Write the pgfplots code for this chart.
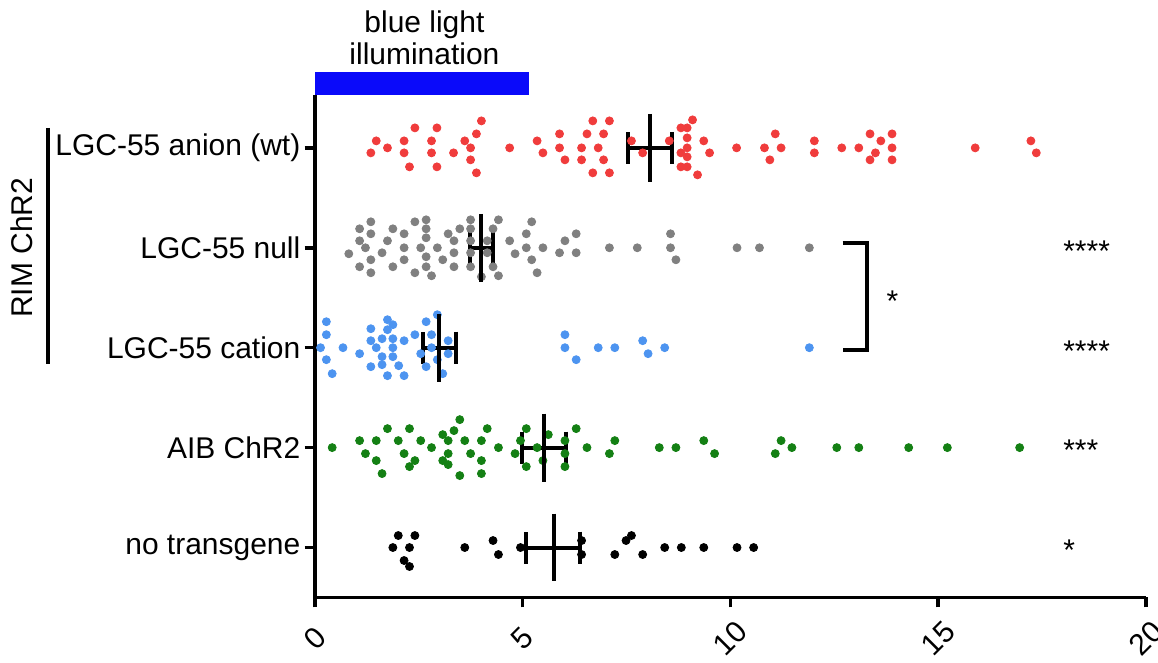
\documentclass[border=0pt]{standalone}
\usepackage{pgfplots}
\pgfplotsset{compat=1.18}
\usepackage{pgfplotstable}
\usepackage{fontspec}
\setmainfont{Liberation Sans}
\definecolor{cred}{RGB}{240,60,60}
\definecolor{cgray}{RGB}{128,128,128}
\definecolor{cblue}{RGB}{77,148,240}
\definecolor{cgreen}{RGB}{20,128,20}
\definecolor{illum}{RGB}{10,10,250}

\pgfplotstableread{
x y
1.35 4.95
1.48 5.07
1.75 5.00
2.15 5.07
2.15 4.95
2.28 4.81
2.41 5.20
2.81 5.07
2.81 4.95
2.94 5.20
2.94 4.81
3.34 4.95
3.61 5.07
3.75 5.00
3.75 4.88
3.89 5.14
3.89 4.75
4.01 5.27
4.69 5.00
5.35 5.07
5.49 4.95
5.89 5.14
5.89 5.00
6.02 4.88
6.42 5.00
6.42 4.88
6.55 5.14
6.69 5.27
6.69 4.75
6.82 5.00
6.95 5.14
6.95 4.88
7.09 5.27
7.09 4.75
7.62 5.07
7.89 4.95
8.53 5.07
8.81 5.20
8.81 4.95
8.81 4.81
8.96 5.20
8.96 5.10
8.96 5.00
8.96 4.91
8.96 4.81
9.09 5.28
9.21 4.73
9.36 5.07
9.50 4.95
10.15 5.00
10.82 5.00
11.08 5.14
11.22 5.00
10.95 4.88
12.02 5.07
12.02 4.95
12.68 5.00
13.09 5.00
13.36 5.14
13.62 5.07
13.89 5.14
13.89 5.00
13.49 4.95
13.36 4.88
13.89 4.88
15.89 5.00
17.23 5.07
17.36 4.95
}\anion

\pgfplotstableread{
x y
0.82 3.94
1.08 4.19
1.08 4.07
1.08 3.81
1.22 4.00
1.35 4.26
1.35 4.14
1.35 3.88
1.35 3.75
1.62 3.95
1.75 4.07
1.88 4.19
1.88 3.81
2.15 4.14
2.15 4.00
2.15 3.88
2.41 4.26
2.41 3.75
2.55 4.00
2.68 4.28
2.68 4.19
2.68 4.10
2.68 3.91
2.68 3.81
2.81 3.72
2.95 4.00
3.08 3.88
3.21 4.14
3.49 4.19
3.35 4.07
3.35 3.95
3.35 3.81
3.75 4.28
3.75 4.19
3.75 4.07
3.75 3.95
3.75 3.81
4.01 3.71
4.15 4.07
4.15 3.95
4.29 4.19
4.29 3.81
4.42 4.28
4.42 3.72
4.69 4.07
4.82 3.94
5.09 4.14
5.09 4.00
5.22 4.26
5.22 3.88
5.35 3.75
5.49 4.00
5.89 3.95
6.02 4.07
6.29 4.14
6.29 3.95
7.09 4.00
7.76 4.00
8.56 4.14
8.56 4.00
8.69 3.88
10.16 4.00
10.70 4.00
11.90 4.00
}\nullmut

\pgfplotstableread{
x y
0.14 3.00
0.28 3.26
0.28 3.13
0.28 2.88
0.42 2.74
0.68 3.00
1.08 2.94
1.35 3.19
1.35 3.07
1.35 2.81
1.48 3.00
1.62 3.09
1.62 2.91
1.62 2.83
1.75 3.28
1.75 3.18
1.75 2.72
1.88 3.23
1.88 3.09
1.88 3.00
1.88 2.91
2.02 2.82
2.15 3.07
2.15 2.72
2.41 3.13
2.55 2.94
2.68 3.26
2.68 2.81
2.81 3.13
2.81 3.00
2.95 3.33
2.95 2.88
3.08 2.74
3.21 3.07
3.21 2.94
6.02 3.13
6.02 3.00
6.29 2.88
6.82 3.00
7.22 3.00
7.89 3.07
8.02 2.94
8.42 3.00
11.90 3.00
}\cation

\pgfplotstableread{
x y
0.42 2.00
1.08 2.07
1.22 1.94
1.48 2.07
1.48 1.87
1.62 1.74
1.75 2.19
2.01 2.07
2.15 1.94
2.28 2.19
2.28 1.81
2.41 1.87
2.55 2.07
2.81 2.00
3.08 2.13
3.08 1.87
3.21 2.07
3.21 1.94
3.21 1.83
3.35 2.17
3.49 2.28
3.49 1.72
3.61 2.07
3.75 1.94
4.01 2.07
4.01 1.87
4.01 1.74
4.15 2.19
4.42 2.00
4.82 1.94
4.95 2.07
5.09 2.19
5.09 1.81
5.35 2.00
5.49 1.87
5.62 2.13
6.02 2.07
6.02 1.94
6.02 1.81
6.29 2.19
6.55 2.00
7.09 1.94
7.22 2.07
8.29 2.00
8.69 2.00
9.36 2.07
9.62 1.94
11.08 1.94
11.22 2.07
11.48 2.00
12.56 2.00
13.09 2.00
14.29 2.00
15.22 2.00
16.96 2.00
}\aib

\pgfplotstableread{
x y
1.88 1.00
2.01 1.12
2.28 1.00
2.41 1.12
2.15 0.87
2.28 0.81
3.61 1.00
4.29 1.07
4.42 0.93
4.95 1.00
6.42 1.07
6.42 0.93
7.22 0.93
7.49 1.07
7.62 1.12
7.89 0.93
8.42 1.00
8.82 1.00
9.36 1.00
10.16 1.00
10.56 1.00
}\notrans

% mean and SEM: y mean minus plus
\pgfplotstableread{
y mean em ep
5 8.07 0.54 0.53
4 4.01 0.28 0.29
3 3.00 0.40 0.41
2 5.51 0.53 0.54
1 5.75 0.66 0.64
}\stats

\begin{document}
\fontsize{15}{16}\selectfont
\begin{tikzpicture}
\begin{axis}[
  name=ax,
  scale only axis, width=416pt, height=251.5pt,
  xmin=0, xmax=20, ymin=0.5, ymax=5.53,
  axis x line*=bottom, axis y line*=left,
  axis line style={line width=1.8pt, black},
  xtick={0,5,10,15,20},
  ytick={1,2,3,4,5},
  yticklabels={no transgene, AIB ChR2, LGC-55 cation, LGC-55 null, LGC-55 anion (wt)},
  tick align=outside, major tick length=5pt,
  tick style={line width=1.8pt, black},
  xticklabel style={yshift=-15.5pt, rotate=45, anchor=center},
  yticklabel style={inner sep=2pt},
  /pgf/number format/assume math mode=true,
  clip=false,
  font=\fontsize{15}{16}\selectfont,
]
\addplot[only marks, mark=*, mark size=2pt, cred, mark options={draw=none, fill=cred}] table[x=x,y=y]{\anion};
\addplot[only marks, mark=*, mark size=2pt, cgray, mark options={draw=none, fill=cgray}] table[x=x,y=y]{\nullmut};
\addplot[only marks, mark=*, mark size=2pt, cblue, mark options={draw=none, fill=cblue}] table[x=x,y=y]{\cation};
\addplot[only marks, mark=*, mark size=2pt, cgreen, mark options={draw=none, fill=cgreen}] table[x=x,y=y]{\aib};
\addplot[only marks, mark=*, mark size=2pt, black, mark options={draw=none, fill=black}] table[x=x,y=y]{\notrans};
% mean +- SEM
\addplot[only marks, mark=|, mark size=17pt, mark options={line width=2pt, black},
  error bars/.cd, x dir=both, x explicit,
  error bar style={line width=2pt, black},
  error mark=|, error mark options={line width=2pt, mark size=8pt, black, rotate=0}]
  table[x=mean, y=y, x error minus=em, x error plus=ep]{\stats};
% significance bracket
\addplot[black, line width=2pt] coordinates {(12.7,4.05) (13.29,4.05) (13.29,2.98) (12.7,2.98)};
\node[anchor=center] at (axis cs:13.9,3.47) {*};
\node[anchor=west, inner sep=0pt] at (axis cs:18,3.97) {****};
\node[anchor=west, inner sep=0pt] at (axis cs:18,2.97) {****};
\node[anchor=west, inner sep=0pt] at (axis cs:18,1.97) {***};
\node[anchor=west, inner sep=0pt] at (axis cs:18,0.97) {*};
% illumination bar
\addplot[fill=illum, draw=none] coordinates {(0,5.53) (5.15,5.53) (5.15,5.76) (0,5.76)} -- cycle;
\node[align=center, font=\fontsize{15}{16}\selectfont] at (axis cs:2.64,6.1) {blue light\\illumination};
% RIM ChR2 bracket
\addplot[black, line width=1.8pt] coordinates {(-6.42,5.2) (-6.42,2.84)};
\node[rotate=90] at (axis cs:-7.04,4.0) {RIM ChR2};
\end{axis}
\pgfresetboundingbox
\path ([xshift=-157.5pt,yshift=-32.5pt]ax.south west) rectangle ([xshift=6pt,yshift=47.5pt]ax.north east);
\end{tikzpicture}
\end{document}
